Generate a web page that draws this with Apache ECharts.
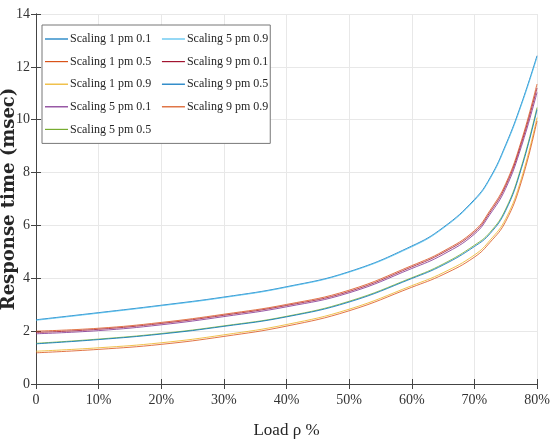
<!DOCTYPE html>
<html>
<head>
<meta charset="utf-8">
<script src="https://cdn.jsdelivr.net/npm/echarts@6/dist/echarts.min.js"></script>
<style>html,body{margin:0;padding:0;background:#fff}#c{width:550px;height:446px}</style>
</head>
<body>
<div id="c"></div>
<script>
// Load axis (percent)
const loadPct = [0, 10, 20, 30, 40, 50, 60, 65, 70, 72.5, 75, 77.5, 80];
const xTicks = [0, 10, 20, 30, 40, 50, 60, 70, 80];
const yTicks = [0, 2, 4, 6, 8, 10, 12, 14];

const seriesNames = [
  'Scaling 1 pm 0.1', 'Scaling 1 pm 0.5', 'Scaling 1 pm 0.9',
  'Scaling 5 pm 0.1', 'Scaling 5 pm 0.5', 'Scaling 5 pm 0.9',
  'Scaling 9 pm 0.1', 'Scaling 9 pm 0.5', 'Scaling 9 pm 0.9'
];
const s1_01 = [2.43, 2.70, 2.98, 3.29, 3.68, 4.25, 5.22, 5.92, 6.98, 7.80, 9.05, 10.6, 12.42];
const s1_05 = [2.00, 2.11, 2.33, 2.64, 3.01, 3.55, 4.48, 5.02, 5.80, 6.57, 7.58, 9.2, 11.35];
const s1_09 = [1.24, 1.37, 1.56, 1.86, 2.25, 2.83, 3.72, 4.21, 4.88, 5.44, 6.25, 7.77, 10.08];
const s5_01 = [1.90, 2.02, 2.24, 2.55, 2.92, 3.45, 4.37, 4.90, 5.67, 6.42, 7.40, 8.98, 11.03];
const s5_05 = [1.54, 1.70, 1.91, 2.20, 2.56, 3.13, 4.02, 4.54, 5.25, 5.74, 6.62, 8.22, 10.46];
const s5_09 = [2.41, 2.68, 2.96, 3.27, 3.66, 4.23, 5.19, 5.89, 6.94, 7.76, 9.00, 10.55, 12.36];
const s9_01 = [1.95, 2.07, 2.29, 2.60, 2.97, 3.50, 4.43, 4.97, 5.74, 6.50, 7.50, 9.1, 11.2];
const s9_05 = [1.52, 1.68, 1.89, 2.18, 2.54, 3.10, 3.99, 4.50, 5.20, 5.69, 6.56, 8.15, 10.38];
const s9_09 = [1.18, 1.31, 1.50, 1.80, 2.19, 2.77, 3.66, 4.14, 4.80, 5.36, 6.15, 7.65, 9.95];
const seriesValues = [s1_01, s1_05, s1_09, s5_01, s5_05, s5_09, s9_01, s9_05, s9_09];
const colors = ['#0072BD', '#D95319', '#EDB120', '#7E2F8E', '#77AC30', '#4DBEEE', '#A2142F', '#0072BD', '#D95319'];

const serif = 'Liberation Serif';
const chart = echarts.init(document.getElementById('c'), null, {renderer: 'canvas'});

const series = seriesNames.map((name, i) => ({
  name: name,
  type: 'line',
  data: loadPct.map((x, j) => [x, seriesValues[i][j]]),
  smooth: 0.45,
  symbol: 'none',
  showSymbol: false,
  color: colors[i],
  lineStyle: {width: 1, color: colors[i], opacity: 0.8},
  z: 3
}));

chart.setOption({
  animation: false,
  backgroundColor: '#fff',
  grid: {left: 36, right: 13, top: 14, bottom: 62, containLabel: false, outerBoundsMode: 'none'},
  legend: {
    data: seriesNames,
    orient: 'vertical',
    left: 42,
    top: 25,
    height: 122,
    itemGap: 10.6,
    itemWidth: 23,
    itemHeight: 12,
    icon: 'path://M0,0 L46,0 L46,2.4 L0,2.4 Z',
    symbolKeepAspect: true,
    padding: [8, 2, 8, 3],
    backgroundColor: '#fff',
    borderColor: '#777',
    borderWidth: 1,
    textStyle: {fontFamily: serif, fontSize: 12, color: '#262626', padding: [0, 0, 0, -3]}
  },
  xAxis: [{
    type: 'value', min: 0, max: 80, interval: 10,
    name: 'Load ρ %', nameLocation: 'middle', nameGap: 38,
    nameTextStyle: {fontFamily: serif, fontSize: 17, color: '#262626'},
    axisLine: {show: true, lineStyle: {color: '#444', width: 1}},
    axisTick: {show: true, inside: true, length: 5, lineStyle: {color: '#444'}},
    axisLabel: {fontFamily: serif, fontSize: 14, color: '#333', margin: 9,
      formatter: v => xTicks.includes(v) ? (v === 0 ? '0' : v + '%') : ''},
    splitLine: {show: true, lineStyle: {color: '#e8e8e8', width: 1}}
  }, {
    type: 'value', min: 0, max: 80, interval: 10, position: 'top',
    axisLine: {show: true, lineStyle: {color: '#444', width: 1}},
    axisTick: {show: true, inside: true, length: 5, lineStyle: {color: '#444'}},
    axisLabel: {show: false}, splitLine: {show: false}
  }],
  yAxis: [{
    type: 'value', min: 0, max: 14, interval: 2,
    name: 'Response time (msec)', nameLocation: 'middle', nameGap: 18, nameRotate: 90,
    nameMoveOverlap: false,
    nameTextStyle: {fontFamily: 'DejaVu Serif', fontWeight: 'bold', fontSize: 18, color: '#262626'},
    axisLine: {show: true, lineStyle: {color: '#444', width: 1}},
    axisTick: {show: true, inside: true, length: 5, lineStyle: {color: '#444'}},
    axisLabel: {fontFamily: serif, fontSize: 14, color: '#333', margin: 6,
      formatter: v => yTicks.includes(v) ? String(v) : ''},
    splitLine: {show: true, lineStyle: {color: '#e8e8e8', width: 1}}
  }, {
    type: 'value', min: 0, max: 14, interval: 2, position: 'right',
    axisLine: {show: true, lineStyle: {color: '#444', width: 1}},
    axisTick: {show: true, inside: true, length: 5, lineStyle: {color: '#444'}},
    axisLabel: {show: false}, splitLine: {show: false}
  }],
  series: series
});
</script>
</body>
</html>
